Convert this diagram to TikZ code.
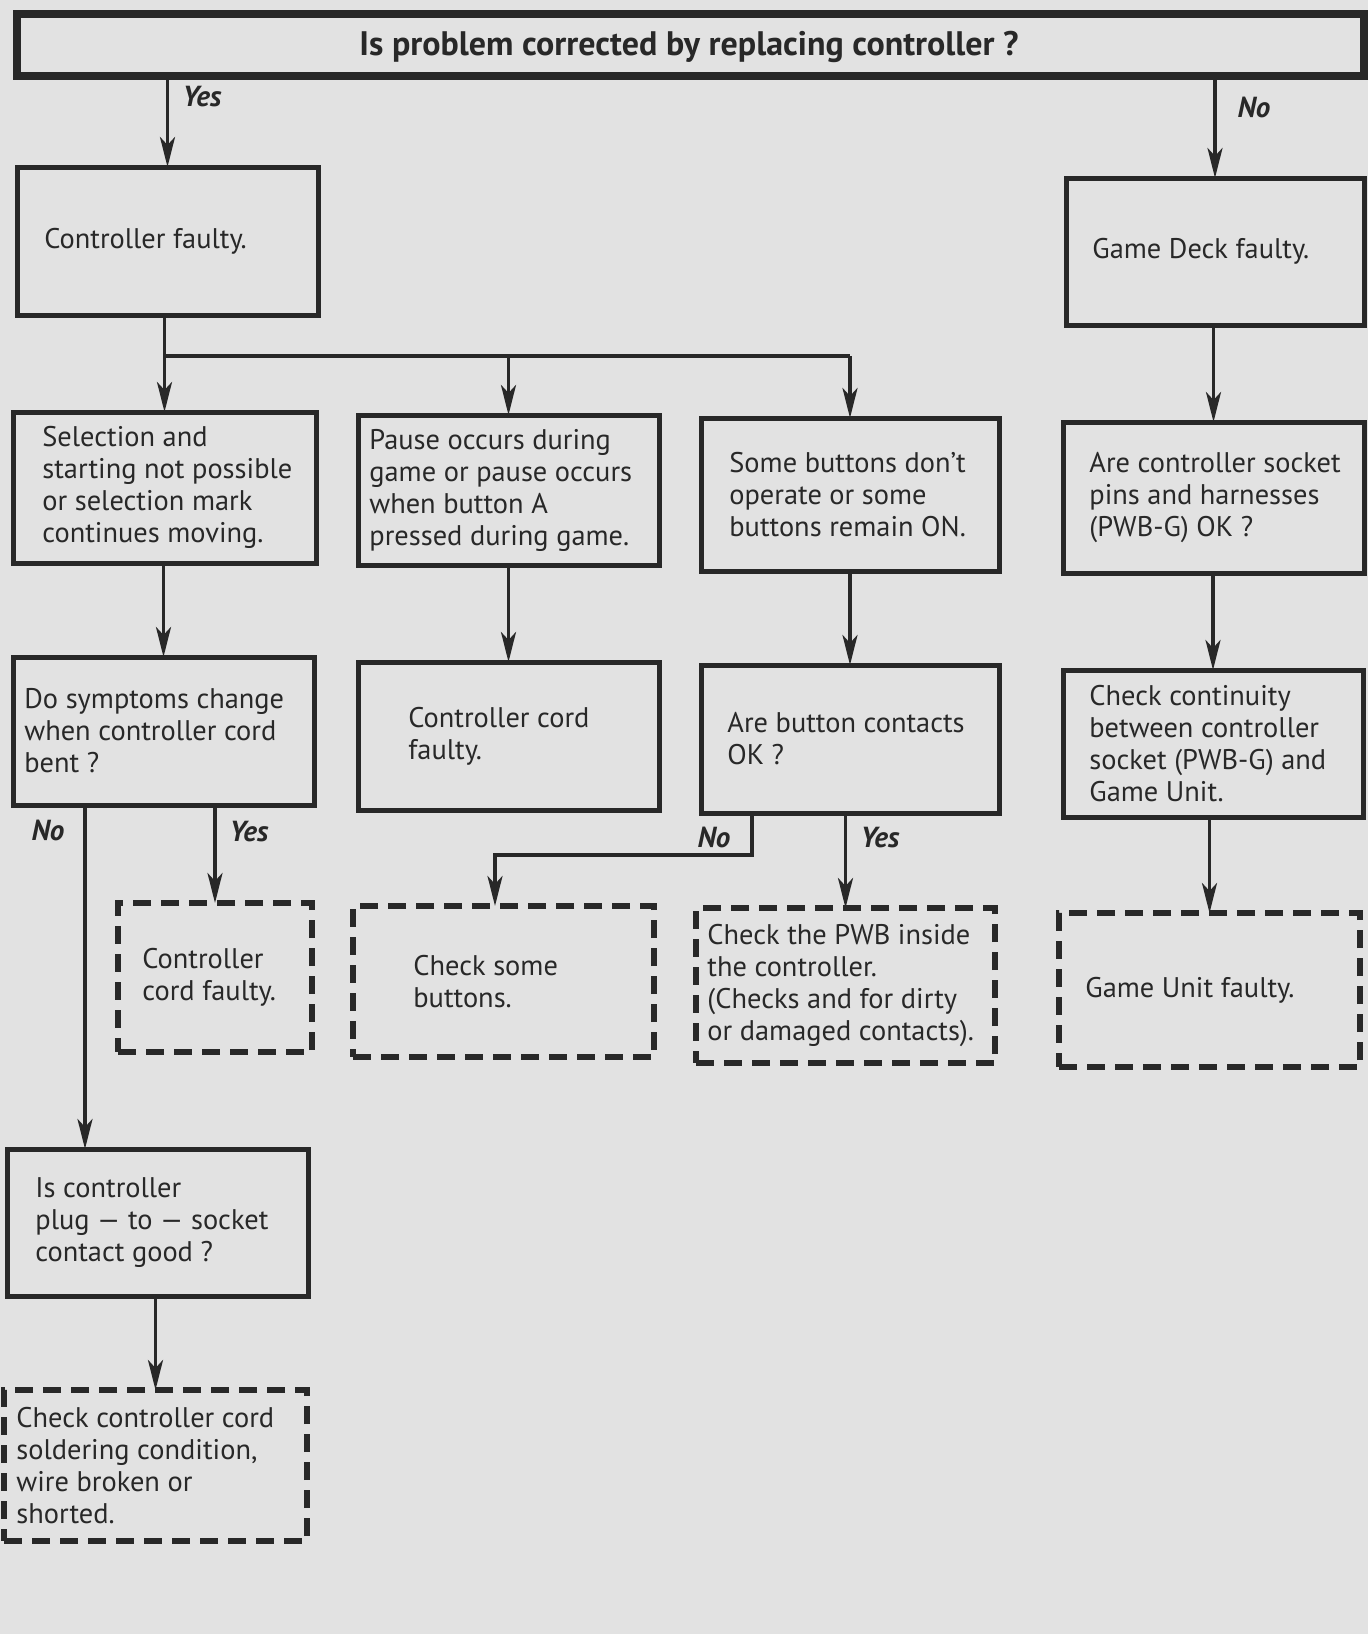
\documentclass[tikz,border=0pt]{standalone}
\usepackage{fontspec}
\setmainfont{PT Sans}
\usetikzlibrary{arrows.meta,calc}
\definecolor{bg}{RGB}{226,226,226}
\definecolor{ink}{RGB}{40,40,40}
\newcommand\mkbox[6]{\node[#2, minimum width={(#5-#3)*0.5pt}, minimum height={(#6-#4)*0.5pt}] (#1) at ({(#3+#5)/2},{(#4+#6)/2}) {};}
\newcommand\mktext[3]{\node[txt] at ([xshift=#2*0.5pt]#1.west) {#3};}
\begin{document}
\begin{tikzpicture}[x=0.5pt,y=-0.5pt,
  solidbox/.style={draw=ink, line width=2.5pt, inner sep=0pt, outer sep=0pt},
  topbox/.style={draw=ink, line width=4pt, inner sep=0pt, outer sep=0pt},
  dashbox/.style={draw=ink, line width=2.8pt, dash pattern=on 9pt off 5pt, inner sep=0pt, outer sep=0pt},
  txt/.style={text=ink, font=\fontsize{14.2}{16}\selectfont, align=left, inner sep=0pt, anchor=west},
  arr/.style={draw=ink, line width=1.8pt, -{Stealth[length=15pt,width=7.5pt,inset=4pt]}},
  conn/.style={draw=ink, line width=1.8pt},
  yn/.style={text=ink, font=\fontsize{14.5}{16}\selectfont\bfseries\itshape, inner sep=0pt}
]
\path[use as bounding box, fill=bg] (0,0) rectangle (1368,1634);

% boxes: name, style, L, T, R, B
\mkbox{top}{topbox}{17}{14}{1364}{76}
\node[text=ink, font=\fontsize{17}{19}\selectfont\bfseries, inner sep=0pt] (title) at (689,47) {Is problem corrected by replacing controller ?};

\mkbox{ctrl}{solidbox}{17}{167}{318}{315}
\mktext{ctrl}{27}{Controller faulty.}
\mkbox{gdeck}{solidbox}{1066}{178}{1364}{325}
\mktext{gdeck}{26}{Game Deck faulty.}

\mkbox{sel}{solidbox}{13}{412}{316}{563}
\mktext{sel}{29}{Selection and\\starting not possible\\or selection mark\\continues moving.}
\mkbox{pause}{solidbox}{358}{415}{659}{565}
\mktext{pause}{11}{Pause occurs during\\game or pause occurs\\when button A\\pressed during game.}
\mkbox{some}{solidbox}{701}{418}{999}{571}
\mktext{some}{28}{Some buttons don’t\\operate or some\\buttons remain ON.}
\mkbox{sock}{solidbox}{1063}{422}{1364}{573}
\mktext{sock}{26}{Are controller socket\\pins and harnesses\\(PWB-G) OK ?}

\mkbox{sym}{solidbox}{13}{657}{314}{805}
\mktext{sym}{11}{Do symptoms change\\when controller cord\\bent ?}
\mkbox{cord}{solidbox}{358}{662}{659}{810}
\mktext{cord}{50}{Controller cord\\faulty.}
\mkbox{contacts}{solidbox}{701}{665}{999}{813}
\mktext{contacts}{26}{Are button contacts\\OK ?}
\mkbox{cont}{solidbox}{1063}{670}{1363}{817}
\mktext{cont}{26}{Check continuity\\between controller\\socket (PWB-G) and\\Game Unit.}

\mkbox{cordF}{dashbox}{118}{903}{312}{1052}
\mktext{cordF}{24}{Controller\\cord faulty.}
\mkbox{csome}{dashbox}{353}{906}{654}{1057}
\mktext{csome}{60}{Check some\\buttons.}
\mkbox{pwb}{dashbox}{696}{908}{995}{1063}
\mktext{pwb}{11}{Check the PWB inside\\the controller.\\(Checks and for dirty\\or damaged contacts).}
\mkbox{gunit}{dashbox}{1059}{913}{1360}{1067}
\mktext{gunit}{26}{Game Unit faulty.}

\mkbox{plug}{solidbox}{7}{1149}{308}{1296}
\mktext{plug}{28}{Is controller\\plug — to — socket\\contact good ?}
\mkbox{csold}{dashbox}{4}{1390}{307}{1541}
\mktext{csold}{12}{Check controller cord\\soldering condition,\\wire broken or\\shorted.}

% connectors
\draw[arr] (top.south -| ctrl.north) -- (ctrl.north);
\node[yn] (yes1) at (202,97) {Yes};
\draw[arr] (top.south -| gdeck.north) -- (gdeck.north);
\node[yn] (no1) at (1254,107) {No};

\coordinate (bus) at (0,356);
\draw[arr] (ctrl.south -| sel.north) -- (sel.north);
\draw[conn] (sel.north |- bus) -- (some.north |- bus);
\draw[arr] (pause.north |- bus) -- (pause.north);
\draw[arr] (some.north |- bus) -- (some.north);
\draw[arr] (gdeck.south -| sock.north) -- (sock.north);

\draw[arr] (sel.south -| sym.north) -- (sym.north);
\draw[arr] (pause.south -| cord.north) -- (cord.north);
\draw[arr] (some.south -| contacts.north) -- (contacts.north);
\draw[arr] (sock.south -| cont.north) -- (cont.north);

\coordinate (nox) at (85,0);
\draw[arr] (sym.south -| nox) -- (plug.north -| nox);
\node[yn] (no2) at (48,830) {No};
\draw[arr] (sym.south -| cordF.north) -- (cordF.north);
\node[yn] (yes2) at (249,832) {Yes};

\coordinate (nob) at (752,855);
\coordinate (nobx) at (495,0);
\draw[arr] (contacts.south -| nob) -- (nob) -| (csome.north -| nobx);
\node[yn] (no3) at (714,837) {No};
\draw[arr] (contacts.south -| pwb.north) -- (pwb.north);
\node[yn] (yes3) at (880,838) {Yes};

\draw[arr] (cont.south -| gunit.north) -- (gunit.north);
\draw[arr] (plug.south -| csold.north) -- (csold.north);
\end{tikzpicture}
\end{document}
